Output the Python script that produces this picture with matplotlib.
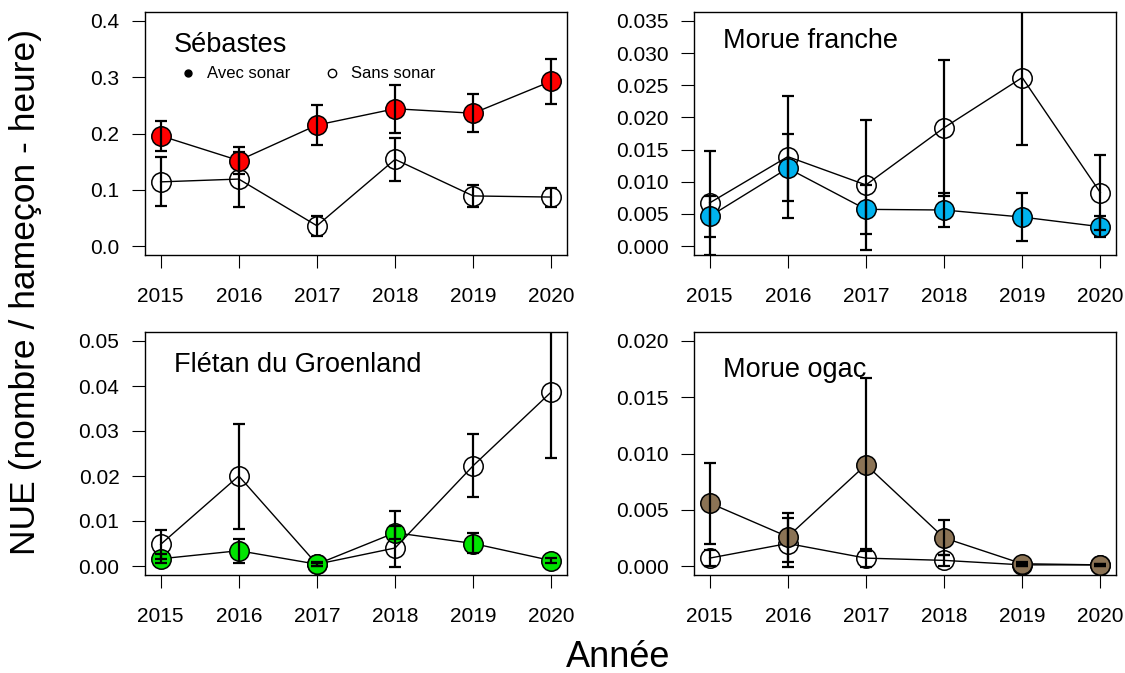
import numpy as np
import matplotlib
matplotlib.use('Agg')
import matplotlib.pyplot as plt
from matplotlib.lines import Line2D

plt.rcParams['font.family'] = ['Liberation Sans', 'DejaVu Sans']

years = [2015, 2016, 2017, 2018, 2019, 2020]
year_labels = ['2015', '2016', '2017', '2018', '2019', '2020']

# Sébastes
seb_avec = [0.196, 0.152, 0.215, 0.244, 0.236, 0.293]
seb_avec_lo = [0.169, 0.128, 0.179, 0.201, 0.202, 0.253]
seb_avec_hi = [0.222, 0.176, 0.251, 0.286, 0.270, 0.333]
seb_sans = [0.114, 0.119, 0.036, 0.154, 0.089, 0.087]
seb_sans_lo = [0.072, 0.069, 0.017, 0.115, 0.070, 0.069]
seb_sans_hi = [0.159, 0.168, 0.054, 0.192, 0.108, 0.104]
seb_ticks = [0.0, 0.1, 0.2, 0.3, 0.4]
seb_ticklabels = ['0.0', '0.1', '0.2', '0.3', '0.4']

# Morue franche
mf_avec = [0.0046, 0.0121, 0.0057, 0.0056, 0.0045, 0.0030]
mf_avec_lo = [0.0014, 0.0070, 0.0019, 0.0029, 0.0008, 0.0014]
mf_avec_hi = [0.0078, 0.0174, 0.0095, 0.0083, 0.0083, 0.0046]
mf_sans = [0.0067, 0.0139, 0.0095, 0.0184, 0.0262, 0.0083]
mf_sans_lo = [-0.0014, 0.0044, -0.0006, 0.0078, 0.0157, 0.0025]
mf_sans_hi = [0.0148, 0.0233, 0.0196, 0.0289, 0.0367, 0.0141]
mf_ticks = [0.0, 0.005, 0.010, 0.015, 0.020, 0.025, 0.030, 0.035]
mf_ticklabels = ['0.000', '0.005', '0.010', '0.015', '0.020', '0.025', '0.030', '0.035']

# Flétan du Groenland
fg_avec = [0.0016, 0.0034, 0.0004, 0.0074, 0.0050, 0.0012]
fg_avec_lo = [0.0006, 0.0007, 0.0001, 0.0060, 0.0028, 0.0006]
fg_avec_hi = [0.0026, 0.0059, 0.0008, 0.0088, 0.0074, 0.0018]
fg_sans = [0.0048, 0.0200, 0.0004, 0.0040, 0.0223, 0.0387]
fg_sans_lo = [0.0016, 0.0082, 0.0001, -0.0002, 0.0153, 0.0241]
fg_sans_hi = [0.0080, 0.0316, 0.0007, 0.0122, 0.0294, 0.0534]
fg_ticks = [0.0, 0.01, 0.02, 0.03, 0.04, 0.05]
fg_ticklabels = ['0.00', '0.01', '0.02', '0.03', '0.04', '0.05']

# Morue ogac
mo_avec = [0.0056, 0.0026, 0.0090, 0.0025, 0.0002, 0.0001]
mo_avec_lo = [0.0020, 0.0004, 0.0013, 0.0010, 0.0000, 0.0000]
mo_avec_hi = [0.0092, 0.0047, 0.0167, 0.0041, 0.0004, 0.0002]
mo_sans = [0.0007, 0.0020, 0.0007, 0.0005, 0.0001, 0.0001]
mo_sans_lo = [0.0000, -0.0001, -0.0001, 0.0000, 0.0000, 0.0000]
mo_sans_hi = [0.0014, 0.0043, 0.0015, 0.0010, 0.0002, 0.0002]
mo_ticks = [0.0, 0.005, 0.010, 0.015, 0.020]
mo_ticklabels = ['0.000', '0.005', '0.010', '0.015', '0.020']

panels = [
    ('Sébastes', '#FF0000', seb_avec, seb_avec_lo, seb_avec_hi, seb_sans, seb_sans_lo, seb_sans_hi, seb_ticks, seb_ticklabels, 0.4),
    ('Morue franche', '#00B2EE', mf_avec, mf_avec_lo, mf_avec_hi, mf_sans, mf_sans_lo, mf_sans_hi, mf_ticks, mf_ticklabels, 0.035),
    ('Flétan du Groenland', '#00E400', fg_avec, fg_avec_lo, fg_avec_hi, fg_sans, fg_sans_lo, fg_sans_hi, fg_ticks, fg_ticklabels, 0.05),
    ('Morue ogac', '#8B7355', mo_avec, mo_avec_lo, mo_avec_hi, mo_sans, mo_sans_lo, mo_sans_hi, mo_ticks, mo_ticklabels, 0.02),
]

W, H = 1125, 673
fig = plt.figure(figsize=(W / 100, H / 100), dpi=100)

# axes boxes in pixels: left, top
boxes = [(145, 12), (694, 12), (145, 332), (694, 332)]
bw, bh = 422, 243
title_y = [0.837, 0.851, 0.837, 0.816]

for i, (name, col, av, av_lo, av_hi, sa, sa_lo, sa_hi, ticks, tlabels, ymax) in enumerate(panels):
    left, top = boxes[i]
    ax = fig.add_axes([left / W, 1 - (top + bh) / H, bw / W, bh / H])
    x = np.array(years)

    # sans sonar (open circles)
    ax.plot(x, sa, color='black', lw=1.0, marker='o', ms=14,
            mfc='none', mec='black', mew=1.1, zorder=2)
    # avec sonar (filled)
    ax.plot(x, av, color='black', lw=1.0, marker='o', ms=14,
            mfc=col, mec='black', mew=1.1, zorder=3)

    sa = np.array(sa)
    av = np.array(av)
    ax.errorbar(x, sa, yerr=[sa - np.array(sa_lo), np.array(sa_hi) - sa],
                fmt='none', ecolor='black', elinewidth=1.6, capsize=4, capthick=1.6, zorder=4)
    ax.errorbar(x, av, yerr=[av - np.array(av_lo), np.array(av_hi) - av],
                fmt='none', ecolor='black', elinewidth=1.6, capsize=4, capthick=1.6, zorder=4)

    pad = ymax * 0.04
    ax.set_ylim(-pad, ymax + pad)
    ax.set_xlim(2014.8, 2020.2)
    ax.set_xticks(years)
    ax.set_xticklabels(year_labels)
    ax.set_yticks(ticks)
    ax.set_yticklabels(tlabels)
    ax.tick_params(axis='both', length=9.4, width=0.8, labelsize=15, direction='out')
    ax.tick_params(axis='x', pad=14)
    ax.tick_params(axis='y', pad=9)
    for s in ax.spines.values():
        s.set_linewidth(1.0)

    ax.text(0.0687, title_y[i], name, transform=ax.transAxes, fontsize=19.5,
            ha='left', va='baseline')

    if i == 0:
        handles = [Line2D([], [], ls='none', marker='o', ms=5, mfc='black', mec='black'),
                   Line2D([], [], ls='none', marker='o', ms=6, mfc='none', mec='black', mew=1.0)]
        ax.legend(handles, ['Avec sonar', 'Sans sonar'], ncol=2, frameon=False,
                  loc='center left', bbox_to_anchor=(0.081, 0.745), borderaxespad=0,
                  borderpad=0, handlelength=1.0, handletextpad=0.64,
                  columnspacing=2.0, fontsize=12)

fig.text(26 / W, 1 - 292 / H, 'NUE (nombre / hameçon - heure)', rotation=90,
         fontsize=25.5, ha='center', va='center')
fig.text(618 / W, 1 - 667 / H, 'Année', fontsize=26, ha='center', va='baseline')

fig.savefig('out.png', dpi=100)
